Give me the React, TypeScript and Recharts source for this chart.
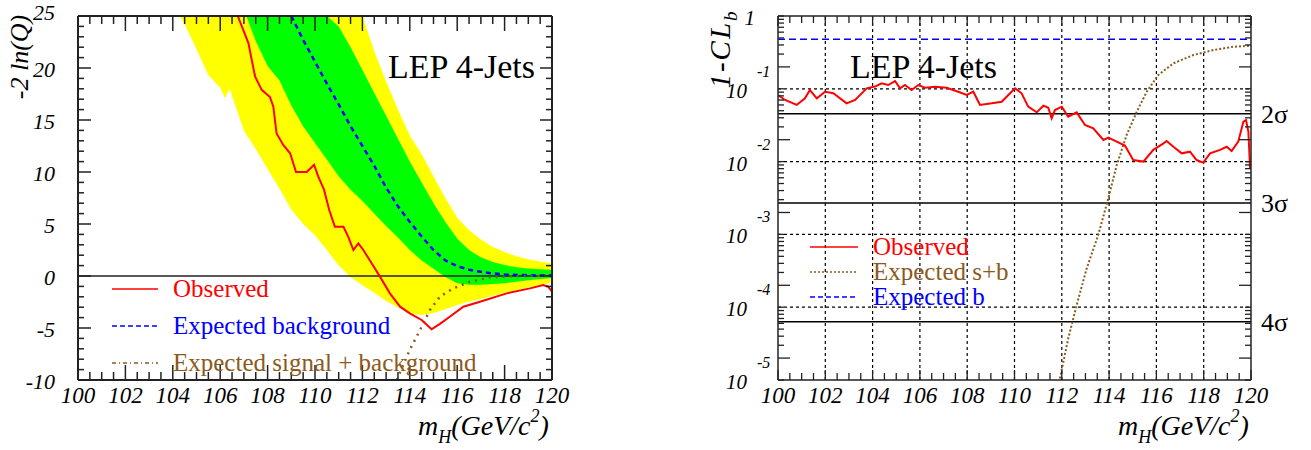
import React from 'react';
import { ComposedChart, Line, Area, XAxis, YAxis, ReferenceLine, Legend } from 'recharts';

// ---------------- Left panel data: -2 ln(Q) ----------------
const bandMass = [104.3, 104.5, 105, 105.5, 106, 106.2, 106.4, 107, 107.1, 107.5, 108, 108.5, 109, 109.5, 110, 110.5, 111, 111.5, 112, 112.5, 113, 113.5, 114, 114.5, 115, 115.5, 116, 116.5, 117, 117.5, 118, 118.5, 119, 119.5, 120];
const yellowLow = [25, 24.2, 21.8, 19.3, 18.1, 17.1, 18.0, 14.0, 13.6, 12.2, 10.3, 8.4, 6.4, 5.0, 3.9, 2.5, 1.0, -0.1, -0.9, -1.6, -2.4, -3.0, -3.6, -3.75, -3.55, -3.2, -2.8, -2.45, -2.2, -1.9, -1.6, -1.35, -1.1, -0.85, -0.65];
const yellowHigh = [25, 25, 25, 25, 25, 25, 25, 25, 25, 25, 25, 25, 25, 25, 25, 25, 25, 25, 25, 21.6, 18.7, 16.0, 13.5, 11.7, 9.6, 7.5, 5.6, 4.4, 3.5, 2.8, 2.3, 1.9, 1.6, 1.4, 1.2];
const greenLow = [null, null, null, null, null, null, null, null, 25, 22.6, 20.2, 18.8, 16.4, 14.4, 12.8, 11.2, 9.6, 8.3, 7.2, 6.0, 4.8, 3.7, 2.5, 1.5, 0.7, -0.1, -0.7, -0.85, -0.85, -0.78, -0.7, -0.55, -0.4, -0.3, -0.2];
const greenHigh = [null, null, null, null, null, null, null, null, 25, 25, 25, 25, 25, 25, 25, 25, 24.0, 22.0, 19.8, 17.6, 15.4, 13.2, 11.0, 9.0, 7.0, 5.2, 3.6, 2.5, 1.8, 1.35, 1.05, 0.85, 0.72, 0.65, 0.6];

const obsMass = [106.74, 107.19, 107.47, 107.75, 108.1, 108.24, 108.38, 108.66, 108.95, 109.2, 109.65, 109.96, 110.14, 110.38, 110.6, 110.84, 111.2, 111.4, 111.62, 111.83, 112.04, 112.39, 112.74, 113.16, 113.59, 114.0, 114.5, 114.92, 115.27, 115.7, 116.26, 116.96, 118.09, 119.07, 119.63, 119.84, 120.0];
const obsLnQ = [25, 22.4, 19.2, 17.9, 17.2, 16.3, 13.7, 12.6, 11.8, 10.0, 10.0, 10.7, 9.55, 8.3, 6.35, 4.74, 4.74, 3.78, 2.5, 3.14, 2.5, 1.22, -0.06, -1.67, -2.95, -3.6, -4.23, -5.13, -4.6, -3.9, -2.95, -2.47, -1.67, -1.19, -0.87, -1.03, -1.5];

const bgMass = [109.0, 109.5, 110.0, 110.5, 111.0, 111.5, 112.0, 112.5, 113.0, 113.5, 114.0, 114.5, 115.0, 115.5, 116.0, 116.5, 117.0, 117.5, 118.0, 118.5, 119.0, 119.5, 120.0];
const bgLnQ = [25, 22.7, 20.6, 18.5, 16.5, 14.4, 12.5, 10.6, 8.5, 6.7, 5.2, 3.8, 2.5, 1.5, 0.95, 0.6, 0.4, 0.25, 0.15, 0.1, 0.07, 0.05, 0.04];

const sbMass = [113.45, 114.0, 114.43, 114.85, 115.27, 115.84, 116.54, 117.38, 118.5, 119.3, 120.0];
const sbLnQ = [-10, -7.1, -5.2, -3.27, -1.99, -1.18, -0.55, -0.13, 0.0, 0.02, 0.03];

// ---------------- Right panel data: 1-CL_b ----------------
const clbMass = [100.0, 100.3, 100.79, 101.14, 101.35, 101.64, 101.99, 102.34, 102.9, 103.26, 103.75, 104.1, 104.38, 104.66, 104.95, 105.16, 105.37, 105.65, 105.93, 106.22, 106.64, 107.13, 107.62, 107.98, 108.26, 108.54, 109.04, 109.46, 109.74, 110.02, 110.3, 110.58, 110.94, 111.22, 111.43, 111.57, 111.71, 112.0, 112.27, 112.63, 112.98, 113.33, 113.76, 113.97, 114.32, 114.67, 115.02, 115.45, 115.87, 116.3, 116.43, 116.72, 117.07, 117.42, 117.7, 117.98, 118.27, 118.69, 118.97, 119.18, 119.46, 119.68, 119.79, 119.89, 119.96];
const clbObs = [0.0822, 0.0702, 0.0600, 0.0741, 0.0962, 0.0741, 0.0912, 0.0871, 0.0631, 0.0702, 0.1016, 0.1072, 0.1189, 0.1127, 0.1279, 0.1016, 0.1127, 0.0962, 0.1127, 0.1035, 0.1069, 0.1035, 0.0912, 0.0822, 0.0912, 0.0600, 0.0631, 0.0665, 0.0822, 0.1016, 0.0867, 0.0568, 0.0475, 0.0586, 0.0550, 0.0393, 0.0511, 0.0568, 0.0414, 0.0475, 0.0318, 0.0286, 0.0198, 0.0213, 0.0188, 0.0166, 0.0105, 0.0100, 0.0145, 0.0178, 0.0192, 0.0160, 0.0130, 0.0137, 0.0105, 0.0097, 0.0130, 0.0145, 0.0160, 0.0140, 0.0188, 0.0355, 0.0373, 0.0257, 0.0081];

const clbSbMass = [111.92, 112.27, 112.63, 113.05, 113.54, 113.97, 114.32, 114.74, 115.17, 115.59, 116.08, 116.72, 117.56, 118.41, 119.25, 119.96];
const clbSb = [0.0000105, 0.000037, 0.000107, 0.000339, 0.00098, 0.00316, 0.0089, 0.0232, 0.0484, 0.0912, 0.155, 0.224, 0.291, 0.341, 0.378, 0.391];

const clbBMass = [100, 102, 104, 106, 108, 110, 112, 114, 116, 118, 120];
const clbB = [0.48, 0.48, 0.48, 0.48, 0.48, 0.48, 0.48, 0.48, 0.48, 0.48, 0.48];

const sigmaLevels = [0.0455, 0.0027, 0.000063];
const sigmaLabels = ['2σ', '3σ', '4σ'];

// ---------------- Tick labels ----------------
const massMajor = [100, 102, 104, 106, 108, 110, 112, 114, 116, 118, 120];
const decades = [-5, -4, -3, -2, -1, 0];
const gridMass = [102, 104, 106, 108, 110, 112, 114, 116, 118];
const gridDecades = [0.1, 0.01, 0.001, 0.0001];

const massTicks: number[] = [];
massMajor.forEach((m, i) => { massTicks.push(m); if (i < massMajor.length - 1) [0.5, 1, 1.5].forEach((d) => massTicks.push(m + d)); });
const lnqTicks: number[] = [];
for (let v = -10; v <= 25; v += 1) lnqTicks.push(v);
const logTicks: number[] = [];
decades.forEach((d) => { for (let k = 1; k <= 9; k++) { if (d === 0 && k > 1) break; logTicks.push(k * Math.pow(10, d)); } });

const zip = (xs: number[], ys: (number | null)[]) => xs.map((m, i) => ({ m, v: ys[i] }));
const yellowRows = bandMass.map((m, i) => ({ m, band: [yellowLow[i], yellowHigh[i]] }));
const greenRows = bandMass.map((m, i) => ({ m, band: greenLow[i] == null ? null : [greenLow[i], greenHigh[i]] })).filter((r) => r.band != null);

const SERIF = '"Liberation Serif", "Times New Roman", serif';
const RED = '#ff0000';
const BLUE = '#0000ff';
const BROWN = '#8b5a1c';
const FRAME = '#222';

const isMult = (v: number, step: number) => Math.abs(v / step - Math.round(v / step)) < 1e-6;
const mantissa = (v: number) => v / Math.pow(10, Math.floor(Math.log10(v) + 1e-9));

type Side = 'bottom' | 'top' | 'left' | 'right';
const makeTick = (side: Side, major: (v: number) => boolean, majorLen: number, minorLen: number, sw: number, label?: (v: number, x: number, y: number) => React.ReactNode) =>
  (props: any) => {
    const { x, y, payload } = props;
    const v = payload.value;
    const len = major(v) ? majorLen : minorLen;
    let x2 = x, y2 = y;
    if (side === 'bottom') y2 = y - len;
    else if (side === 'top') y2 = y + len;
    else if (side === 'left') x2 = x + len;
    else x2 = x - len;
    return (
      <g>
        <line x1={x} y1={y} x2={x2} y2={y2} stroke={FRAME} strokeWidth={sw} />
        {label ? label(v, x, y) : null}
      </g>
    );
  };

const massLabel = (v: number, x: number, y: number) =>
  isMult(v, 2) ? (
    <text x={x} y={y + 23} textAnchor="middle" fontFamily={SERIF} fontStyle="italic" fontSize={23} fill="#000">{v}</text>
  ) : null;

const lnqLabel = (v: number, x: number, y: number) =>
  isMult(v, 5) ? (
    <text x={x - 23} y={v === 25 ? y + 4 : y + 9} textAnchor="end" fontFamily={SERIF} fontStyle="italic" fontSize={22} fill="#000">{v}</text>
  ) : null;

const logLabel = (v: number, x: number, y: number) => {
  if (Math.abs(mantissa(v) - 1) > 1e-6) return null;
  const e = Math.round(Math.log10(v));
  if (e === 0) return <text x={x - 23} y={y + 9} textAnchor="end" fontFamily={SERIF} fontStyle="italic" fontSize={21} fill="#000">1</text>;
  return (
    <g>
      <text x={x - 31} y={y + 9} textAnchor="end" fontFamily={SERIF} fontStyle="italic" fontSize={21} fill="#000">10</text>
      <text x={x - 21} y={y - 12} textAnchor="start" fontFamily={SERIF} fontStyle="italic" fontSize={16} fill="#000">{e}</text>
    </g>
  );
};

type LegItem = { label: string; color: string; dash?: string; sw: number };
const makeLegend = (items: LegItem[], fontSize: number, rowH: number, sampleW: number, gap: number) => () => (
  <div style={{ fontFamily: SERIF, fontSize, lineHeight: 1 }}>
    {items.map((it) => (
      <div key={it.label} style={{ display: 'flex', alignItems: 'center', height: rowH, whiteSpace: 'nowrap' }}>
        <svg width={sampleW} height={6} style={{ display: 'block' }}>
          <line x1={0} x2={sampleW} y1={3} y2={3} stroke={it.color} strokeWidth={it.sw} strokeDasharray={it.dash} />
        </svg>
        <span style={{ marginLeft: gap, color: it.color }}>{it.label}</span>
      </div>
    ))}
  </div>
);

const leftLegend: LegItem[] = [
  { label: 'Observed', color: RED, sw: 1.5 },
  { label: 'Expected background', color: BLUE, dash: '5 3', sw: 1.5 },
  { label: 'Expected signal + background', color: BROWN, dash: '4 3 1 3', sw: 1.5 },
];
const rightLegend: LegItem[] = [
  { label: 'Observed', color: RED, sw: 1.5 },
  { label: 'Expected s+b', color: BROWN, dash: '2 2', sw: 1.5 },
  { label: 'Expected b', color: BLUE, dash: '5 3', sw: 1.5 },
];

const AX = { height: 1, tickSize: 0, tickMargin: 0, tickLine: false, interval: 0 as const };
const AY = { width: 1, tickSize: 0, tickMargin: 0, tickLine: false, interval: 0 as const };

const LeftChart = () => (
  <ComposedChart width={650} height={450} margin={{ top: 15, left: 77, right: 97, bottom: 69 }}>
    <XAxis xAxisId={0} dataKey="m" type="number" domain={[100, 120]} allowDataOverflow ticks={massTicks} {...AX} axisLine={{ stroke: FRAME, strokeWidth: 2 }} tick={makeTick('bottom', (v) => isMult(v, 2), 15, 8, 1.5, massLabel)} />
    <XAxis xAxisId="top" orientation="top" dataKey="m" type="number" domain={[100, 120]} allowDataOverflow ticks={massTicks} {...AX} axisLine={{ stroke: FRAME, strokeWidth: 2 }} tick={makeTick('top', (v) => isMult(v, 2), 15, 8, 1.5)} />
    <YAxis yAxisId={0} type="number" domain={[-10, 25]} allowDataOverflow ticks={lnqTicks} {...AY} axisLine={{ stroke: FRAME, strokeWidth: 2 }} tick={makeTick('left', (v) => isMult(v, 5), 13, 6, 1.5, lnqLabel)} />
    <YAxis yAxisId="right" orientation="right" type="number" domain={[-10, 25]} allowDataOverflow ticks={lnqTicks} {...AY} axisLine={{ stroke: FRAME, strokeWidth: 2 }} tick={makeTick('right', (v) => isMult(v, 5), 12, 6, 1.5)} />
    <Area data={yellowRows} dataKey="band" type="linear" fill="#ffff00" fillOpacity={1} stroke="none" isAnimationActive={false} />
    <Area data={greenRows} dataKey="band" type="linear" fill="#00ff00" fillOpacity={1} stroke="none" isAnimationActive={false} />
    <ReferenceLine y={0} stroke={FRAME} strokeWidth={1.5} />
    <Line data={zip(bgMass, bgLnQ)} dataKey="v" type="linear" stroke={BLUE} strokeWidth={2.5} strokeDasharray="5 4" dot={false} isAnimationActive={false} />
    <Line data={zip(sbMass, sbLnQ)} dataKey="v" type="linear" stroke={BROWN} strokeWidth={2.5} strokeDasharray="2 5" dot={false} isAnimationActive={false} />
    <Line data={zip(obsMass, obsLnQ)} dataKey="v" type="linear" stroke={RED} strokeWidth={2} dot={false} isAnimationActive={false} />
    <Legend layout="vertical" align="center" verticalAlign="middle" content={makeLegend(leftLegend, 25, 37, 46, 15)} wrapperStyle={{ position: 'absolute', left: 112, top: 270, width: 'auto', height: 'auto' }} />
  </ComposedChart>
);

const RightChart = () => (
  <ComposedChart width={661} height={450} margin={{ top: 15, left: 127, right: 59, bottom: 69 }}>
    <XAxis xAxisId={0} dataKey="m" type="number" domain={[100, 120]} allowDataOverflow ticks={massTicks} {...AX} axisLine={{ stroke: FRAME, strokeWidth: 1.5 }} tick={makeTick('bottom', (v) => isMult(v, 2), 10, 7, 1.3, massLabel)} />
    <XAxis xAxisId="top" orientation="top" dataKey="m" type="number" domain={[100, 120]} allowDataOverflow ticks={massTicks} {...AX} axisLine={{ stroke: FRAME, strokeWidth: 1.5 }} tick={makeTick('top', (v) => isMult(v, 2), 10, 7, 1.3)} />
    <YAxis yAxisId={0} type="number" scale="log" domain={[0.00001, 1]} allowDataOverflow ticks={logTicks} {...AY} axisLine={{ stroke: FRAME, strokeWidth: 1.5 }} tick={makeTick('left', (v) => Math.abs(mantissa(v) - 2) < 1e-6, 12, 6, 1.3, logLabel)} />
    <YAxis yAxisId="right" orientation="right" type="number" scale="log" domain={[0.00001, 1]} allowDataOverflow ticks={logTicks} {...AY} axisLine={{ stroke: FRAME, strokeWidth: 1.5 }} tick={makeTick('right', (v) => Math.abs(mantissa(v) - 2) < 1e-6, 12, 6, 1.3)} />
    {gridMass.map((m) => (
      <ReferenceLine key={'gx' + m} x={m} stroke="#000" strokeWidth={1.2} strokeDasharray="3 3" />
    ))}
    {gridDecades.map((d) => (
      <ReferenceLine key={'gy' + d} y={d} stroke="#000" strokeWidth={1.2} strokeDasharray="3 3" />
    ))}
    {sigmaLevels.map((s) => (
      <ReferenceLine key={'s' + s} y={s} stroke="#000" strokeWidth={1.5} />
    ))}
    <Line data={zip(clbBMass, clbB)} dataKey="v" type="linear" stroke={BLUE} strokeWidth={1.5} strokeDasharray="7 4" dot={false} isAnimationActive={false} />
    <Line data={zip(clbSbMass, clbSb)} dataKey="v" type="linear" stroke={BROWN} strokeWidth={2} strokeDasharray="2 2" dot={false} isAnimationActive={false} />
    <Line data={zip(clbMass, clbObs)} dataKey="v" type="linear" stroke={RED} strokeWidth={2} dot={false} isAnimationActive={false} />
    <Legend layout="vertical" align="center" verticalAlign="middle" content={makeLegend(rightLegend, 25, 25, 48, 15)} wrapperStyle={{ position: 'absolute', left: 160, top: 234, width: 'auto', height: 'auto' }} />
  </ComposedChart>
);

const Titles = () => (
  <svg width={1311} height={450} style={{ position: 'absolute', left: 0, top: 0, pointerEvents: 'none' }}>
    <g fontFamily={SERIF} fill="#000">
      <text x={388} y={78} fontSize={34}>LEP 4-Jets</text>
      <text x={850} y={78} fontSize={34}>LEP 4-Jets</text>
      <text transform="translate(28,57) rotate(-90)" textAnchor="middle" fontSize={26} fontStyle="italic">-2 ln(Q)</text>
      <text transform="translate(730,49) rotate(-90)" textAnchor="middle" fontSize={29} fontStyle="italic" letterSpacing={2}>
        1-CL<tspan fontSize={19} dy={7}>b</tspan>
      </text>
      {[418, 1118].map((x) => (
        <text key={x} x={x} y={435} fontSize={28} fontStyle="italic">
          m<tspan fontSize={18} dy={8}>H</tspan>
          <tspan dy={-8}>(GeV/c</tspan>
          <tspan fontSize={18} dy={-13}>2</tspan>
          <tspan dy={13}>)</tspan>
        </text>
      ))}
    </g>
  </svg>
);

const SigmaLabels = () => {
  // positions of the sigma labels follow the right chart's log scale (plot top 16, 5 decades over 364 px)
  const top = 16, h = 364;
  return (
    <svg width={1311} height={450} style={{ position: 'absolute', left: 0, top: 0, pointerEvents: 'none' }}>
      {sigmaLevels.map((s, i) => (
        <text key={i} x={1261} y={top + (-Math.log10(s) / 5) * h + 9} fontFamily={SERIF} fontSize={26} fill="#000">{sigmaLabels[i]}</text>
      ))}
    </svg>
  );
};

export default function App() {
  return (
    <div style={{ position: 'absolute', left: 0, top: 0, width: 1311, height: 450, background: '#fff', overflow: 'hidden' }}>
      <div style={{ position: 'absolute', left: 0, top: 0 }}>
        <LeftChart />
      </div>
      <div style={{ position: 'absolute', left: 650, top: 0 }}>
        <RightChart />
      </div>
      <Titles />
      <SigmaLabels />
    </div>
  );
}
